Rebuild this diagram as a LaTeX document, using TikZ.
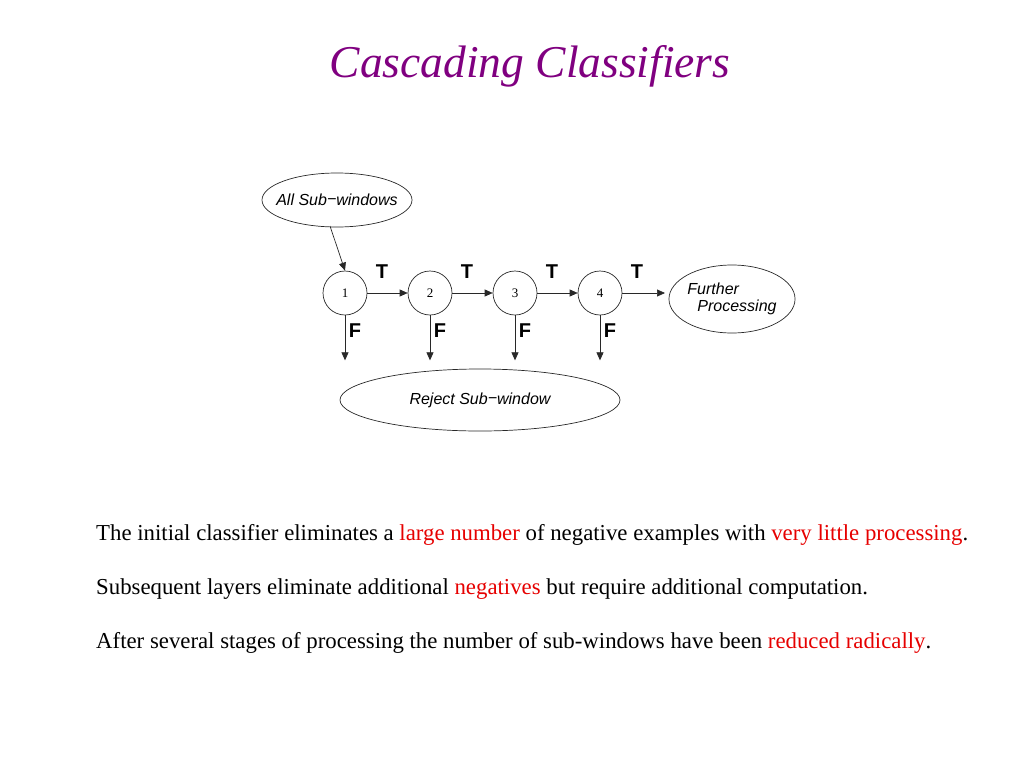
\documentclass[tikz,border=0pt]{standalone}
\usepackage{fontspec}
\setmainfont{Liberation Serif}
\setsansfont{Liberation Sans}
\usetikzlibrary{shapes.geometric,arrows.meta,calc}
\definecolor{ttl}{RGB}{128,0,128}
\definecolor{hl}{RGB}{230,0,0}
\definecolor{ln}{RGB}{40,40,40}
\begin{document}
\begin{tikzpicture}[x=1pt,y=-1pt,
  stage/.style={circle,draw=ln,line width=0.7pt,minimum size=44pt,inner sep=0pt,font=\fontsize{13}{13}\selectfont},
  oval/.style={ellipse,draw=ln,line width=0.7pt,inner sep=0pt,font=\sffamily\itshape\fontsize{16}{17}\selectfont},
  arr/.style={-{Triangle[length=8pt,width=7pt]},line width=0.7pt,draw=ln},
  lab/.style={font=\sffamily\bfseries\fontsize{20}{20}\selectfont,inner sep=0pt},
  body/.style={anchor=base west,inner sep=0pt,font=\fontsize{22.8}{24}\selectfont}]
\useasboundingbox (0,0) rectangle (1024,768);
\node[font=\itshape\fontsize{45.5}{48}\selectfont,text=ttl] (title) at (530,66) {Cascading Classifiers};
\node[oval,inner xsep=-14pt,minimum width=150pt,minimum height=54pt] (all) at (337,200) {All Sub\raisebox{0.1ex}{−}windows};
\node[stage] (s1) at (345,293) {1};
\node[stage] (s2) at (430,293) {2};
\node[stage] (s3) at (515,293) {3};
\node[stage] (s4) at (600,293) {4};
\node[oval,minimum width=124pt,minimum height=68pt,align=left] (fp) at (732,299) {Further\\[0pt]\hspace*{10pt}Processing};
\node[oval,minimum width=280pt,minimum height=62pt] (rej) at (480,400) {Reject Sub\raisebox{0.1ex}{−}window};
\coordinate (a1) at (330,226);
\draw[arr] (a1) -- (s1.north);
\draw[arr] (s1) -- (s2);
\draw[arr] (s2) -- (s3);
\draw[arr] (s3) -- (s4);
\coordinate (e4) at (665,293);
\draw[arr] (s4.east) -- (e4);
\foreach \i/\x in {1/382,2/467,3/552,4/637}{
  \node[lab] (t\i) at (\x,272) {T};
  \coordinate (f\i) at ($(s\i.south)+(0,45)$);
  \draw[arr] (s\i.south) -- (f\i);
  \node[lab] (fl\i) at ($(s\i.south)+(10,15)$) {F};
}
\node[body] (l1) at (96,540) {The initial classifier eliminates a \textcolor{hl}{large number} of negative examples with \textcolor{hl}{very little processing}.};
\node[body] (l2) at (96,594) {Subsequent layers eliminate additional \textcolor{hl}{negatives} but require additional computation.};
\node[body] (l3) at (96,648) {After several stages of processing the number of sub-windows have been \textcolor{hl}{reduced radically}.};
\end{tikzpicture}
\end{document}
